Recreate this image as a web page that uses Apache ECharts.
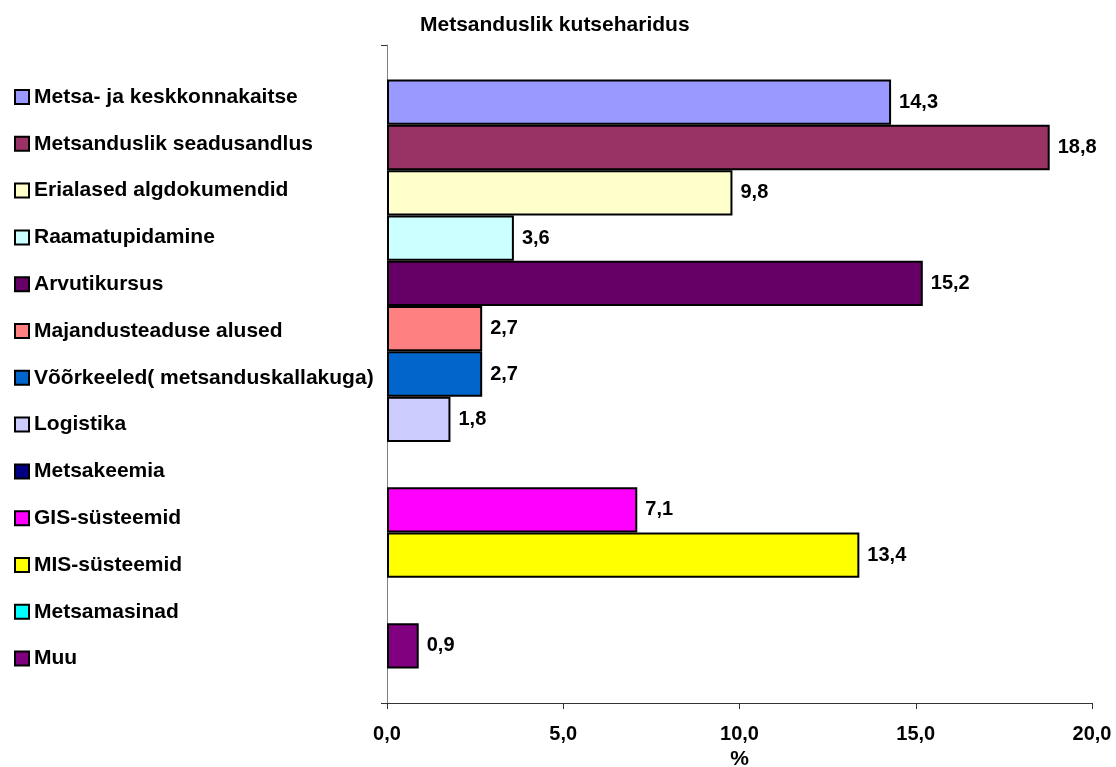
<!DOCTYPE html>
<html>
<head>
<meta charset="utf-8">
<title>Metsanduslik kutseharidus</title>
<script src="https://cdn.jsdelivr.net/npm/echarts@6/dist/echarts.min.js"></script>
<style>
html,body{margin:0;padding:0;background:#fff;}
#main{width:1116px;height:767px;}
</style>
</head>
<body>
<div id="main"></div>
<script>
// andmed
var teemad = ['Metsa- ja keskkonnakaitse', 'Metsanduslik seadusandlus', 'Erialased algdokumendid',
	'Raamatupidamine', 'Arvutikursus', 'Majandusteaduse alused', 'Võõrkeeled( metsanduskallakuga)',
	'Logistika', 'Metsakeemia', 'GIS-süsteemid', 'MIS-süsteemid', 'Metsamasinad', 'Muu'];
var protsendid = [14.3, 18.8, 9.8, 3.6, 15.2, 2.7, 2.7, 1.8, null, 7.1, 13.4, null, 0.9];
var varvid = ['#9999ff', '#993366', '#ffffcc', '#ccffff', '#660066', '#ff8080', '#0066cc',
	'#ccccff', '#000080', '#ff00ff', '#ffff00', '#00ffff', '#800080'];
var xTicks = [0, 5, 10, 15, 20];

var font = 'Arial, "Liberation Sans", sans-serif';

function koma(v) {
	return v.toFixed(1).replace('.', ',');
}

var series = [];
for (var i = 0; i < teemad.length; i++) {
	series.push({
		name: teemad[i],
		type: 'bar',
		barGap: '0%',
		barCategoryGap: '10.5%',
		data: [protsendid[i]],
		itemStyle: {
			color: varvid[i],
			borderColor: '#000',
			borderWidth: 2
		},
		label: {
			show: protsendid[i] != null,
			position: 'right',
			distance: 8,
			color: '#000',
			fontFamily: font,
			fontWeight: 'bold',
			fontSize: 20,
			formatter: function (p) { return koma(p.value); }
		}
	});
}

var myChart = echarts.init(document.getElementById('main'));
var option = {
	backgroundColor: '#fff',
	animation: false,
	title: {
		text: 'Metsanduslik kutseharidus',
		left: 420,
		top: 15,
		padding: 0,
		textStyle: { fontFamily: font, fontWeight: 'bold', fontSize: 21, color: '#000' }
	},
	legend: {
		orient: 'vertical',
		left: 14,
		top: 85,
		padding: 0,
		itemWidth: 14,
		itemHeight: 14,
		itemGap: 22.8,
		icon: 'rect',
		selectedMode: false,
		itemStyle: { borderColor: '#000', borderWidth: 2 },
		textStyle: { fontFamily: font, fontWeight: 'bold', fontSize: 21, color: '#000', lineHeight: 24 },
		data: teemad
	},
	grid: { left: 387, right: 24, top: 45, bottom: 64, outerBoundsMode: 'none', containLabel: false },
	xAxis: {
		type: 'value',
		min: xTicks[0],
		max: xTicks[xTicks.length - 1],
		interval: 5,
		name: '%',
		nameLocation: 'middle',
		nameGap: 45,
		nameTextStyle: { fontFamily: font, fontWeight: 'bold', fontSize: 21, color: '#000' },
		axisLine: { show: true, lineStyle: { color: '#333', width: 1 } },
		axisTick: { show: true, length: 6, lineStyle: { color: '#333' } },
		axisLabel: {
			margin: 21,
			fontFamily: font, fontWeight: 'bold', fontSize: 20, color: '#000',
			formatter: function (v) { return koma(v); }
		},
		splitLine: { show: false }
	},
	yAxis: {
		type: 'category',
		inverse: true,
		data: [''],
		axisLine: { show: true, lineStyle: { color: '#808080', width: 1 } },
		axisTick: { show: true, length: 6, lineStyle: { color: '#333' } },
		axisLabel: { show: false }
	},
	series: series
};
myChart.setOption(option);
</script>
</body>
</html>
